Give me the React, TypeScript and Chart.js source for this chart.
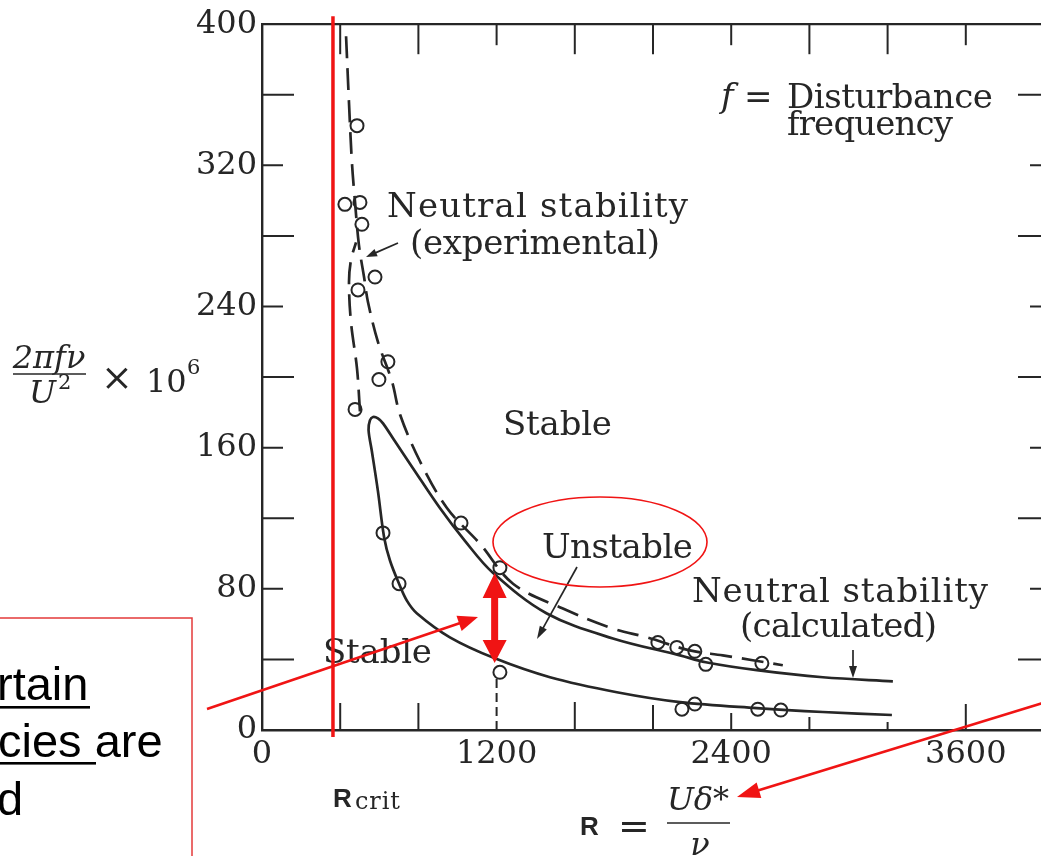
import React, { useEffect, useRef } from 'react';
import { Chart, registerables } from 'chart.js';

Chart.register(...registerables);

// Axis ranges and tick labels
const X_MIN = 0;
const X_MAX = 4000;
const Y_MIN = 0;
const Y_MAX = 400;
const X_STEP = 400;
const Y_STEP = 40;
const X_LABELED = [0, 1200, 2400, 3600];
const Y_LABELED = [0, 80, 160, 240, 320, 400];

// Neutral stability (calculated): closed loop, lower branch (right -> tip) then upper branch (tip -> right)
const calcR = [3222, 2869, 2531, 2138, 1815, 1473, 1191, 961, 793, 741, 701, 655, 625, 593, 562, 545, 552, 568, 593, 619, 680, 772, 910, 1038, 1181, 1457, 1795, 2138, 2270, 2531, 2869, 3227];
const calcF = [8.5, 10.2, 12.4, 15.8, 21.4, 29.9, 40.6, 52.5, 66.0, 73.3, 82.9, 95.9, 109.0, 135.4, 158.0, 170.0, 175.5, 177.4, 176.6, 173.8, 163.6, 148.4, 125.8, 107.2, 89.1, 66.0, 51.9, 42.3, 38.4, 33.9, 29.9, 27.6];

// Neutral stability (experimental), dashed: upper/right branch and short left branch
const expHighR = [430, 445, 460, 476, 496, 522, 542, 593, 665, 706, 808, 946, 1115, 1284, 1539, 1795, 1969, 2189, 2357, 2664];
const expHighF = [393.2, 355.4, 321.6, 299.0, 274.7, 256.7, 242.6, 220.0, 197.5, 178.8, 152.3, 125.8, 105.5, 82.9, 68.8, 57.5, 52.5, 45.1, 42.3, 36.7];
const expLowR = [501, 486, 455, 445, 455, 481];
const expLowF = [180.5, 204.8, 231.3, 253.9, 266.3, 276.4];

// Measured points (open circles)
const measR = [486, 424, 501, 511, 578, 491, 644, 598, 476, 1018, 1217, 619, 701, 1217, 2025, 2122, 2214, 2270, 2557, 2148, 2214, 2536, 2654];
const measF = [342.5, 297.9, 299.0, 286.6, 256.7, 249.4, 208.7, 198.6, 181.7, 117.3, 92.0, 111.7, 82.9, 32.7, 49.6, 46.8, 44.6, 37.2, 37.8, 11.8, 14.7, 11.8, 11.3];

// Annotation anchors (data units)
const R_CRIT = 363;
const ARROW_R = 1190;
const ARROW_TOP_F = 89;
const ARROW_BOTTOM_F = 38;

const INK = '#262626';
const RED = '#f01414';
const SERIF = '"DejaVu Serif", "Liberation Serif", serif';
const SANS = '"Liberation Sans", Arial, sans-serif';

const zip = (xs: number[], ys: number[]) => xs.map((x, i) => ({ x, y: ys[i] }));

function fitText(ctx: CanvasRenderingContext2D, text: string, x: number, y: number, font: string, width?: number) {
  ctx.font = font;
  (ctx as any).letterSpacing = '0px';
  if (width) {
    const w0 = ctx.measureText(text).width;
    const ls = (width - w0) / Math.max(1, text.length - 1);
    (ctx as any).letterSpacing = ls.toFixed(2) + 'px';
  }
  ctx.textAlign = 'left';
  ctx.textBaseline = 'alphabetic';
  ctx.fillText(text, x, y);
  (ctx as any).letterSpacing = '0px';
}

function arrow(ctx: CanvasRenderingContext2D, x1: number, y1: number, x2: number, y2: number, hl: number, hw: number, lw: number, color: string) {
  const a = Math.atan2(y2 - y1, x2 - x1);
  const bx = x2 - Math.cos(a) * hl;
  const by = y2 - Math.sin(a) * hl;
  ctx.strokeStyle = color;
  ctx.fillStyle = color;
  ctx.lineWidth = lw;
  ctx.beginPath();
  ctx.moveTo(x1, y1);
  ctx.lineTo(bx + Math.cos(a) * 2, by + Math.sin(a) * 2);
  ctx.stroke();
  ctx.beginPath();
  ctx.moveTo(x2, y2);
  ctx.lineTo(bx + Math.sin(a) * hw, by - Math.cos(a) * hw);
  ctx.lineTo(bx - Math.sin(a) * hw, by + Math.cos(a) * hw);
  ctx.closePath();
  ctx.fill();
}

const overlay = {
  id: 'figureOverlay',
  afterDraw(chart: any) {
    const ctx: CanvasRenderingContext2D = chart.ctx;
    const xs = chart.scales.x;
    const ys = chart.scales.y;
    const { left, right, top, bottom } = chart.chartArea;
    const X = (v: number) => xs.getPixelForValue(v);
    const Y = (v: number) => ys.getPixelForValue(v);
    ctx.save();
    ctx.lineCap = 'butt';
    ctx.strokeStyle = INK;
    ctx.fillStyle = INK;

    // frame (top and right)
    ctx.lineWidth = 2.2;
    ctx.beginPath();
    ctx.moveTo(left, top);
    ctx.lineTo(right, top);
    ctx.lineTo(right, bottom);
    ctx.stroke();

    // inward ticks
    ctx.lineWidth = 2;
    for (let v = Y_MIN + Y_STEP; v < Y_MAX; v += Y_STEP) {
      const y = Y(v);
      const lab = Y_LABELED.includes(v);
      ctx.beginPath();
      ctx.moveTo(left, y); ctx.lineTo(left + (lab ? 21 : 32), y);
      ctx.moveTo(right, y); ctx.lineTo(right - (lab ? 14 : 26), y);
      ctx.stroke();
    }
    const bottomLen: Record<number, number> = { 400: 27, 800: 27, 1600: 28, 2000: 25, 2400: 17, 2800: 13, 3200: 8, 3600: 26 };
    for (let v = X_MIN + X_STEP; v < X_MAX; v += X_STEP) {
      const x = X(v);
      const lab = X_LABELED.includes(v);
      ctx.beginPath();
      ctx.moveTo(x, top); ctx.lineTo(x, top + (lab ? 21 : 30));
      ctx.stroke();
      if (v === 1200) {
        ctx.setLineDash([9, 5]);
        ctx.beginPath();
        ctx.moveTo(x, bottom); ctx.lineTo(x, Y(30));
        ctx.stroke();
        ctx.setLineDash([]);
      } else {
        ctx.beginPath();
        ctx.moveTo(x, bottom); ctx.lineTo(x, bottom - (bottomLen[v] || 25));
        ctx.stroke();
      }
    }

    // y-axis title: 2πfν / U² × 10⁶
    ctx.fillStyle = INK;
    ctx.textBaseline = 'alphabetic';
    ctx.textAlign = 'center';
    ctx.font = `italic 32px ${SERIF}`;
    ctx.fillText('2πfν', 49, 368);
    ctx.lineWidth = 1.7;
    ctx.beginPath(); ctx.moveTo(13, 374); ctx.lineTo(86, 374); ctx.stroke();
    ctx.textAlign = 'left';
    ctx.font = `italic 32px ${SERIF}`;
    ctx.fillText('U', 29, 403);
    ctx.font = `21px ${SERIF}`;
    ctx.fillText('2', 58, 389);
    ctx.font = `38px ${SERIF}`;
    ctx.fillText('×', 101, 390);
    ctx.font = `32px ${SERIF}`;
    ctx.fillText('10', 146, 392);
    ctx.font = `21px ${SERIF}`;
    ctx.fillText('6', 187, 374);

    // x-axis title: R = Uδ*/ν
    ctx.font = `bold 26px ${SANS}`;
    ctx.fillText('R', 580, 835);
    ctx.font = `38px ${SERIF}`;
    ctx.fillText('=', 618, 839);
    ctx.textAlign = 'center';
    ctx.font = `italic 32px ${SERIF}`;
    ctx.fillText('Uδ*', 698, 810);
    ctx.lineWidth = 1.7;
    ctx.beginPath(); ctx.moveTo(667, 823); ctx.lineTo(730, 823); ctx.stroke();
    ctx.fillText('ν', 700, 855);

    // R_crit label
    ctx.textAlign = 'left';
    ctx.font = `bold 26px ${SANS}`;
    ctx.fillText('R', 333, 807);
    fitText(ctx, 'crit', 355, 809, `24px ${SERIF}`, 45);

    // in-plot labels
    const F = `34px ${SERIF}`;
    ctx.font = `italic 34px ${SERIF}`;
    ctx.fillText('f', 721, 107);
    ctx.font = F;
    ctx.fillText('=', 744, 108);
    fitText(ctx, 'Disturbance', 787, 108, F, 206);
    fitText(ctx, 'frequency', 787, 135, F, 166);
    fitText(ctx, 'Neutral stability', 387, 217, F, 301);
    fitText(ctx, '(experimental)', 410, 254, F, 250);
    fitText(ctx, 'Stable', 503, 435, F, 109);
    fitText(ctx, 'Unstable', 542, 558, F, 151);
    fitText(ctx, 'Stable', 323, 663, F, 109);
    fitText(ctx, 'Neutral stability', 692, 602, F, 296);
    fitText(ctx, '(calculated)', 740, 637, F, 197);

    // small black arrows
    arrow(ctx, 398, 243, 366, 257, 11, 4, 1.7, INK);
    arrow(ctx, 577, 567, 537, 639, 13, 4, 1.7, INK);
    arrow(ctx, 853, 650, 853, 678, 12, 4, 1.7, INK);

    // ---- red overlays ----
    ctx.strokeStyle = RED;
    ctx.lineWidth = 3.5;
    ctx.beginPath();
    ctx.moveTo(X(R_CRIT), top - 8);
    ctx.lineTo(X(R_CRIT), bottom + 7);
    ctx.stroke();

    // ellipse around "Unstable"
    ctx.lineWidth = 1.6;
    ctx.beginPath();
    ctx.ellipse(600, 542, 107, 45, 0, 0, Math.PI * 2);
    ctx.stroke();

    // double arrow between neutral branches
    const ax = X(ARROW_R);
    const at = Y(ARROW_TOP_F);
    const ab = Y(ARROW_BOTTOM_F);
    ctx.fillStyle = RED;
    ctx.fillRect(ax - 3.5, at + 22, 7, ab - at - 44);
    ctx.beginPath();
    ctx.moveTo(ax, at); ctx.lineTo(ax + 12, at + 25); ctx.lineTo(ax - 12, at + 25); ctx.closePath();
    ctx.moveTo(ax, ab); ctx.lineTo(ax + 12, ab - 23); ctx.lineTo(ax - 12, ab - 23); ctx.closePath();
    ctx.fill();

    // pointer arrows
    arrow(ctx, 207, 709, 478, 617, 20, 8, 2.6, RED);
    arrow(ctx, 1046, 702, 737, 797, 23, 8, 2.6, RED);

    // note box on the left
    ctx.strokeStyle = '#e43a3a';
    ctx.lineWidth = 1.5;
    ctx.strokeRect(-5, 618, 197, 260);
    ctx.fillStyle = '#000';
    ctx.font = `47px ${SANS}`;
    ctx.textAlign = 'left';
    ctx.fillText('rtain', -3, 700);
    ctx.fillText('cies are', -2, 757);
    ctx.fillText('d', -3, 815);
    ctx.fillRect(0, 706, 90, 2.6);
    ctx.fillRect(0, 762, 96, 2.6);

    ctx.restore();
  },
};

export default function App() {
  const ref = useRef<HTMLCanvasElement>(null);
  useEffect(() => {
    const canvas = ref.current;
    if (!canvas) return;
    const tickFont = { family: SERIF, size: 32 };
    const chart = new Chart(canvas, {
      type: 'scatter',
      data: {
        datasets: [
          {
            label: 'Neutral stability (calculated)',
            data: zip(calcR, calcF),
            showLine: true,
            borderColor: INK,
            borderWidth: 2.7,
            pointRadius: 0,
            tension: 0.35,
            fill: false,
          },
          {
            label: 'Neutral stability (experimental)',
            data: zip(expHighR, expHighF),
            showLine: true,
            borderColor: INK,
            borderWidth: 2.7,
            borderDash: [22, 10],
            pointRadius: 0,
            tension: 0.35,
            fill: false,
          },
          {
            label: 'Neutral stability (experimental, lower)',
            data: zip(expLowR, expLowF),
            showLine: true,
            borderColor: INK,
            borderWidth: 2.7,
            borderDash: [22, 10],
            pointRadius: 0,
            tension: 0.35,
            fill: false,
          },
          {
            label: 'Measurements',
            data: zip(measR, measF),
            showLine: false,
            pointRadius: 6.5,
            pointBackgroundColor: '#ffffff',
            pointBorderColor: INK,
            pointBorderWidth: 2,
          },
        ],
      } as any,
      options: {
        responsive: false,
        animation: false,
        events: [],
        layout: { padding: { left: 10, top: 21, right: 16, bottom: 0 } },
        plugins: { legend: { display: false }, tooltip: { enabled: false } },
        scales: {
          x: {
            type: 'linear',
            min: X_MIN,
            max: X_MAX,
            grid: { display: true, drawOnChartArea: false, drawTicks: false },
            border: { display: true, color: INK, width: 2.4 },
            ticks: {
              stepSize: X_STEP,
              autoSkip: false,
              maxRotation: 0,
              padding: 5,
              color: INK,
              font: tickFont,
              callback: (v: any) => (X_LABELED.includes(Number(v)) ? String(v) : ''),
            },
            afterFit: (s: any) => { s.height = 126; },
          },
          y: {
            type: 'linear',
            min: Y_MIN,
            max: Y_MAX,
            grid: { display: true, drawOnChartArea: false, drawTicks: false },
            border: { display: true, color: INK, width: 2.4 },
            ticks: {
              stepSize: Y_STEP,
              autoSkip: false,
              padding: 5,
              color: INK,
              font: tickFont,
              callback: (v: any) => (Y_LABELED.includes(Number(v)) ? String(v) : ''),
            },
            afterFit: (s: any) => { s.width = 252; },
          },
        },
      } as any,
      plugins: [overlay],
    });
    return () => chart.destroy();
  }, []);
  return (
    <div style={{ position: 'fixed', left: 0, top: 0, width: 1041, height: 856, overflow: 'hidden', background: '#fff' }}>
      <canvas ref={ref} width={1060} height={856} style={{ display: 'block' }} />
    </div>
  );
}
